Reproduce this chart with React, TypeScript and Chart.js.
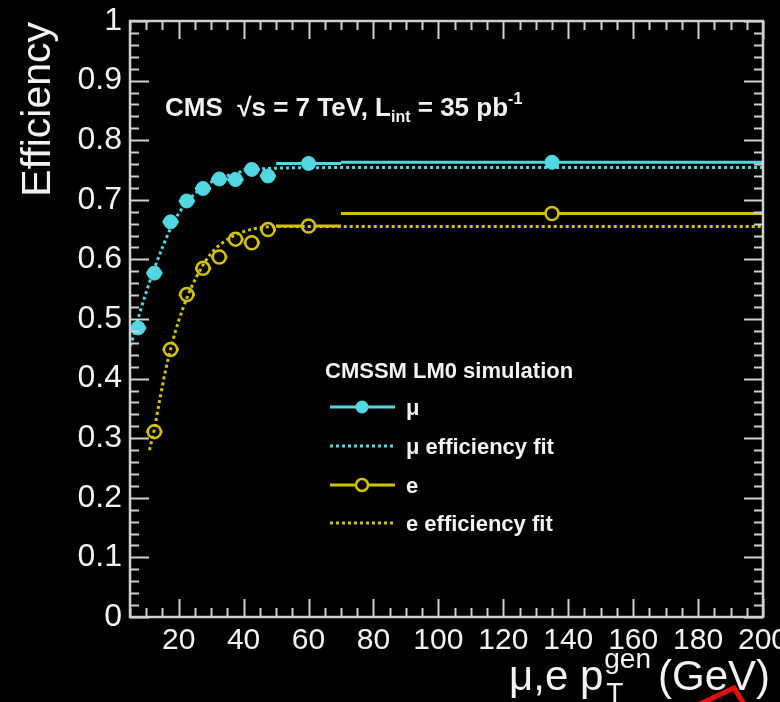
import React, { useEffect, useRef } from "react";
import { Chart, registerables } from "chart.js";

Chart.register(...registerables);

// ---- data ----
const binCenters = [7.5, 12.5, 17.5, 22.5, 27.5, 32.5, 37.5, 42.5, 47.5, 60, 135];
const binLow = [5, 10, 15, 20, 25, 30, 35, 40, 45, 50, 70];
const binHigh = [10, 15, 20, 25, 30, 35, 40, 45, 50, 70, 200];
const muEff = [0.485, 0.577, 0.663, 0.698, 0.719, 0.735, 0.734, 0.751, 0.74, 0.761, 0.763];
const eEff = [null, 0.311, 0.449, 0.541, 0.585, 0.604, 0.634, 0.628, 0.65, 0.656, 0.677];

const muFitX = [5, 6, 8, 10, 12.5, 15, 17.5, 20, 24, 29, 36, 41, 50, 70, 200];
const muFitY = [0.455, 0.47, 0.51, 0.545, 0.585, 0.62, 0.652, 0.677, 0.705, 0.727, 0.742, 0.749, 0.753, 0.754, 0.754];
const eFitX = [11, 12.5, 14, 16, 18, 20, 22.5, 25.5, 29.7, 36, 43, 50, 70, 200];
const eFitY = [0.28, 0.315, 0.36, 0.415, 0.46, 0.497, 0.535, 0.571, 0.608, 0.637, 0.651, 0.655, 0.655, 0.655];

const xTickValues = [20, 40, 60, 80, 100, 120, 140, 160, 180, 200];
const xTickLabels = ["20", "40", "60", "80", "100", "120", "140", "160", "180", "200"];
const yTickValues = [0, 0.1, 0.2, 0.3, 0.4, 0.5, 0.6, 0.7, 0.8, 0.9, 1];
const yTickLabels = ["0", "0.1", "0.2", "0.3", "0.4", "0.5", "0.6", "0.7", "0.8", "0.9", "1"];

const legendHeader = "CMSSM LM0 simulation";
const legendLabels = ["μ", "μ efficiency fit", "e", "e efficiency fit"];

const CYAN = "#52d8e2";
const YELLOW = "#d4c200";
const FRAME = "#d0d0d0";
const TEXT = "#f2f2f2";
const FONT = "'Liberation Sans', Arial, Helvetica, sans-serif";

const X_MIN = 5;
const X_MAX = 200;

const rootPlugin = {
  id: "rootStyle",
  beforeDraw(chart: any) {
    const ctx = chart.ctx;
    ctx.save();
    ctx.fillStyle = "#000";
    ctx.fillRect(0, 0, chart.width, chart.height);
    ctx.restore();
  },
  beforeDatasetsDraw(chart: any) {
    const ctx = chart.ctx;
    const xs = chart.scales.x;
    const ys = chart.scales.y;
    ctx.save();
    ctx.lineWidth = 3;
    chart.data.datasets.forEach((ds: any) => {
      if (!ds.errLow) return;
      ctx.strokeStyle = ds.borderColor;
      ds.data.forEach((p: any, i: number) => {
        const yy = ys.getPixelForValue(p.y);
        ctx.beginPath();
        ctx.moveTo(xs.getPixelForValue(ds.errLow[i]), yy);
        ctx.lineTo(xs.getPixelForValue(ds.errHigh[i]), yy);
        ctx.stroke();
      });
    });
    ctx.restore();
  },
  afterDatasetsDraw(chart: any) {
    const ctx = chart.ctx;
    const xs = chart.scales.x;
    const ys = chart.scales.y;
    const a = chart.chartArea;
    ctx.save();
    ctx.strokeStyle = FRAME;
    ctx.lineWidth = 2.5;
    ctx.strokeRect(a.left, a.top, a.right - a.left, a.bottom - a.top);
    ctx.lineWidth = 2;
    // y ticks (0.02 steps)
    for (let k = 0; k <= 50; k++) {
      const v = k / 50;
      const py = Math.round(ys.getPixelForValue(v)) + 0.5;
      const len = k % 5 === 0 ? 19 : 9;
      ctx.beginPath();
      ctx.moveTo(a.left, py);
      ctx.lineTo(a.left + len, py);
      ctx.moveTo(a.right, py);
      ctx.lineTo(a.right - len, py);
      ctx.stroke();
    }
    // x ticks (5 steps)
    for (let v = 5; v <= 200; v += 5) {
      const px = Math.round(xs.getPixelForValue(v)) + 0.5;
      const len = v % 20 === 0 ? 18 : 9;
      ctx.beginPath();
      ctx.moveTo(px, a.bottom);
      ctx.lineTo(px, a.bottom - len);
      ctx.moveTo(px, a.top);
      ctx.lineTo(px, a.top + len);
      ctx.stroke();
    }
    ctx.restore();
  },
  afterDraw(chart: any) {
    const ctx = chart.ctx;
    ctx.save();
    ctx.fillStyle = TEXT;
    ctx.textBaseline = "alphabetic";

    // y title
    ctx.save();
    ctx.translate(50, 22);
    ctx.rotate(-Math.PI / 2);
    ctx.textAlign = "right";
    ctx.font = `41px ${FONT}`;
    ctx.fillText("Efficiency", 0, 0);
    ctx.restore();

    // x title: μ,e p_T^gen (GeV)
    ctx.textAlign = "left";
    const big = `42px ${FONT}`;
    const small = `28px ${FONT}`;
    ctx.font = big;
    const w1 = ctx.measureText("μ,e p").width;
    const w3 = ctx.measureText("(GeV)").width;
    ctx.font = small;
    const w2 = ctx.measureText("gen").width;
    const gap = 8;
    const total = w1 + w2 + gap + w3;
    let x0 = 770 - total;
    const base = 690;
    ctx.font = big;
    ctx.fillText("μ,e p", x0, base);
    x0 += w1;
    ctx.font = small;
    ctx.fillText("T", x0 + 3, base + 12);
    ctx.fillText("gen", x0 + 1, base - 22);
    x0 += w2 + gap;
    ctx.font = big;
    ctx.fillText("(GeV)", x0, base);

    // CMS label
    const lb = `bold 26px ${FONT}`;
    const ls = `bold 16px ${FONT}`;
    let cx = 165;
    const cb = 116;
    ctx.font = lb;
    const parts1 = "CMS  √s = 7 TeV, L";
    ctx.fillText(parts1, cx, cb);
    cx += ctx.measureText(parts1).width;
    ctx.font = ls;
    ctx.fillText("int", cx, cb + 6);
    cx += ctx.measureText("int").width;
    ctx.font = lb;
    const parts2 = " = 35 pb";
    ctx.fillText(parts2, cx, cb);
    cx += ctx.measureText(parts2).width;
    ctx.font = ls;
    ctx.fillText("-1", cx, cb - 12);

    // legend
    ctx.font = `bold 22px ${FONT}`;
    ctx.fillText(legendHeader, 325, 378);
    const rows = [407, 446, 485, 523];
    const colors = [CYAN, CYAN, YELLOW, YELLOW];
    rows.forEach((ry, i) => {
      ctx.strokeStyle = colors[i];
      ctx.lineWidth = 3;
      ctx.setLineDash(i % 2 === 1 ? [3, 3] : []);
      ctx.beginPath();
      ctx.moveTo(330, ry);
      ctx.lineTo(395, ry);
      ctx.stroke();
      ctx.setLineDash([]);
      if (i === 0) {
        ctx.fillStyle = CYAN;
        ctx.beginPath();
        ctx.arc(362, ry, 6.5, 0, Math.PI * 2);
        ctx.fill();
      } else if (i === 2) {
        ctx.fillStyle = "#000";
        ctx.beginPath();
        ctx.arc(362, ry, 6, 0, Math.PI * 2);
        ctx.fill();
        ctx.lineWidth = 2.5;
        ctx.stroke();
      }
      ctx.fillStyle = TEXT;
      ctx.font = `bold 22px ${FONT}`;
      ctx.fillText(legendLabels[i], 406, ry + 8);
    });

    // red annotation fragment at the bottom right
    ctx.strokeStyle = "#e01010";
    ctx.lineWidth = 5;
    ctx.beginPath();
    ctx.moveTo(700, 704);
    ctx.lineTo(734, 688);
    ctx.lineTo(744, 704);
    ctx.stroke();

    ctx.restore();
  },
};

export default function App() {
  const ref = useRef<HTMLCanvasElement | null>(null);

  useEffect(() => {
    document.body.style.margin = "0";
    document.body.style.background = "#000";
    const canvas = ref.current;
    if (!canvas) return;

    const muData = binCenters.map((x, i) => ({ x, y: muEff[i] }));
    const eIdx = binCenters.map((_, i) => i).filter((i) => eEff[i] !== null);
    const eData = eIdx.map((i) => ({ x: binCenters[i], y: eEff[i] as number }));

    const chart = new Chart(canvas, {
      type: "line",
      data: {
        datasets: [
          {
            label: "μ efficiency fit",
            data: muFitX.map((x, i) => ({ x, y: muFitY[i] })),
            borderColor: CYAN,
            borderWidth: 3,
            borderDash: [3, 3],
            pointRadius: 0,
            cubicInterpolationMode: "monotone",
            fill: false,
          },
          {
            label: "e efficiency fit",
            data: eFitX.map((x, i) => ({ x, y: eFitY[i] })),
            borderColor: YELLOW,
            borderWidth: 3,
            borderDash: [3, 3],
            pointRadius: 0,
            cubicInterpolationMode: "monotone",
            fill: false,
          },
          {
            label: "μ",
            data: muData,
            showLine: false,
            borderColor: CYAN,
            backgroundColor: CYAN,
            pointRadius: 7,
            pointBorderWidth: 1,
            pointBackgroundColor: CYAN,
            pointBorderColor: CYAN,
            errLow: binLow,
            errHigh: binHigh,
          } as any,
          {
            label: "e",
            data: eData,
            showLine: false,
            borderColor: YELLOW,
            backgroundColor: "#000",
            pointRadius: 6.5,
            pointBorderWidth: 2.5,
            pointBackgroundColor: "#000",
            pointBorderColor: YELLOW,
            errLow: eIdx.map((i) => binLow[i]),
            errHigh: eIdx.map((i) => binHigh[i]),
          } as any,
        ],
      },
      options: {
        animation: false,
        responsive: false,
        events: [],
        layout: { padding: { top: 21, right: 17, left: 0, bottom: 0 } },
        plugins: { legend: { display: false }, tooltip: { enabled: false } },
        scales: {
          x: {
            type: "linear",
            min: X_MIN,
            max: X_MAX,
            grid: { display: false, drawTicks: false },
            border: { display: false },
            afterBuildTicks: (s: any) => {
              s.ticks = xTickValues.map((v) => ({ value: v }));
            },
            afterFit: (s: any) => {
              s.height = 85;
              s.paddingLeft = 0;
              s.paddingRight = 0;
            },
            ticks: {
              color: TEXT,
              font: { family: FONT, size: 30 },
              padding: 6,
              maxRotation: 0,
              autoSkip: false,
              callback: (v: any) => {
                const i = xTickValues.indexOf(Number(v));
                return i >= 0 ? xTickLabels[i] : "";
              },
            },
          },
          y: {
            type: "linear",
            min: 0,
            max: 1,
            grid: { display: false, drawTicks: false },
            border: { display: false },
            afterBuildTicks: (s: any) => {
              s.ticks = yTickValues.map((v) => ({ value: v }));
            },
            afterFit: (s: any) => {
              s.width = 130;
              s.paddingTop = 0;
              s.paddingBottom = 0;
            },
            ticks: {
              color: TEXT,
              font: { family: FONT, size: 32 },
              padding: 8,
              autoSkip: false,
              callback: (v: any) => {
                let best = 0;
                yTickValues.forEach((t, i) => {
                  if (Math.abs(t - Number(v)) < Math.abs(yTickValues[best] - Number(v))) best = i;
                });
                return yTickLabels[best];
              },
            },
          },
        },
      },
      plugins: [rootPlugin],
    });

    return () => chart.destroy();
  }, []);

  return (
    <div style={{ position: "fixed", left: 0, top: 0, width: 780, height: 702, background: "#000" }}>
      <canvas ref={ref} width={780} height={702} style={{ width: 780, height: 702, display: "block" }} />
    </div>
  );
}
